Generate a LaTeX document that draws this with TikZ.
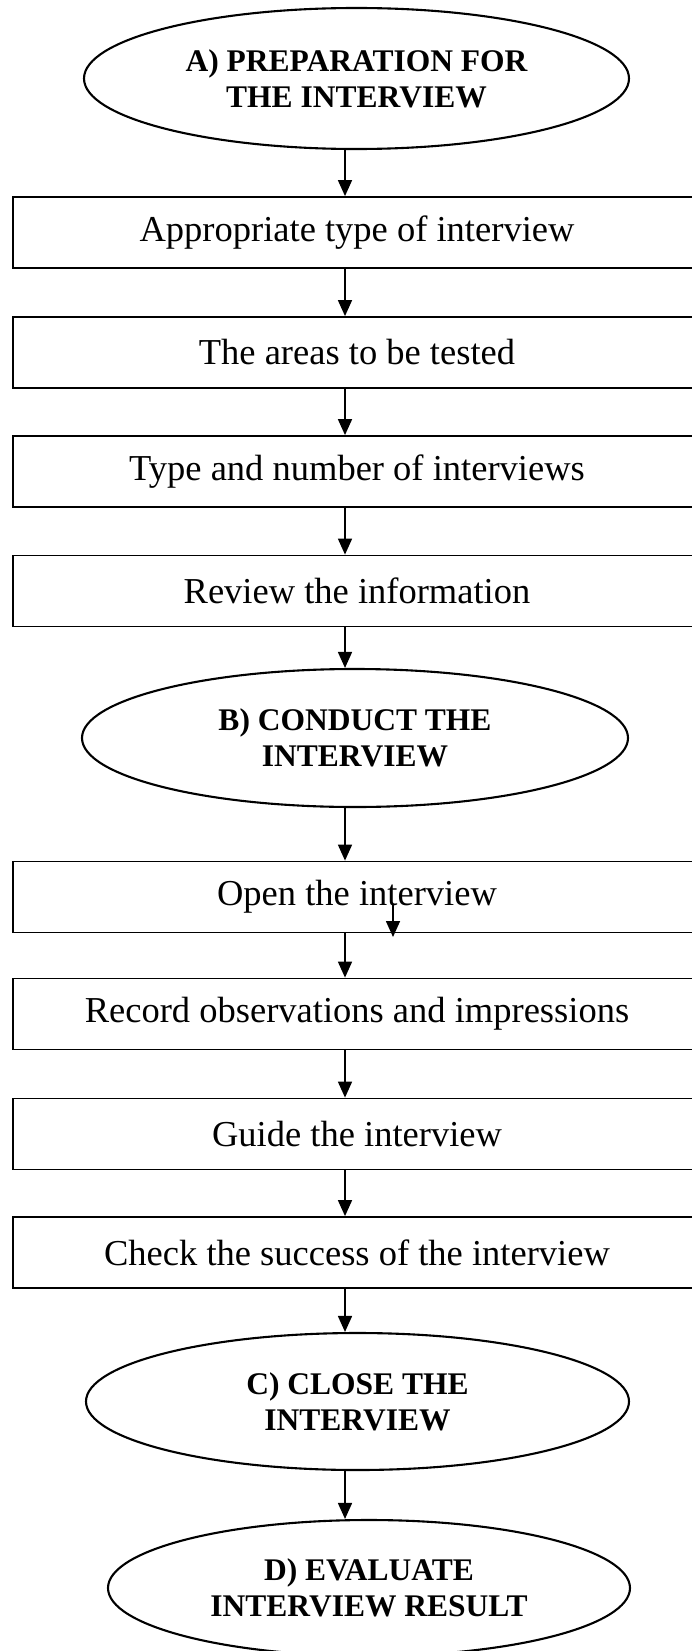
\documentclass[tikz,border=0pt]{standalone}
\usepackage{fontspec}
\setmainfont{Liberation Serif}
\usetikzlibrary{arrows.meta, shapes.geometric}

\tikzset{
  stage/.style={draw, ellipse, line width=2.1pt, inner sep=0pt, align=center,
    font=\fontsize{31.5}{36}\selectfont\bfseries},
  task/.style={draw, rectangle, line width=1.8pt, minimum width=688pt,
    minimum height=71pt, inner sep=0pt, font=\fontsize{36.5}{40}\selectfont},
  arr/.style={line width=1.6pt, -{Triangle[length=16pt, width=14pt]}}
}

\begin{document}
\begin{tikzpicture}[x=1pt, y=-1pt]
  \useasboundingbox (0,0) rectangle (692,1651);
  \fill[white] (0,0) rectangle (692,1651);
  \coordinate (ax) at (345,0);

  % A) preparation
  \node[stage, minimum width=545pt, minimum height=141pt] (prep) at (356.5,78.5) {A) PREPARATION FOR\\THE INTERVIEW};
  \node[task] (kind) at (357,232.5) {Appropriate type of interview};
  \node[task] (areas) at (357,352.5) {The areas to be tested};
  \node[task] (count) at (357,471.5) {Type and number of interviews};
  \node[task] (review) at (357,591) {Review the information};

  % B) conduct
  \node[stage, minimum width=546pt, minimum height=138pt] (conduct) at (355,738) {B) CONDUCT THE\\INTERVIEW};
  \node[task] (open) at (357,897) {Open the interview};
  \node[task] (record) at (357,1014) {Record observations and impressions};
  \node[task] (guide) at (357,1134) {Guide the interview};
  \node[task] (check) at (357,1252.5) {Check the success of the interview};

  % C) and D)
  \node[stage, minimum width=543pt, minimum height=137pt] (close) at (357.5,1401.5) {C) CLOSE THE\\INTERVIEW};
  \node[stage, minimum width=522pt, minimum height=136pt] (evaluate) at (369,1588) {D) EVALUATE\\INTERVIEW RESULT};

  % arrows
  \draw[arr] (prep.south -| ax) -- (kind.north -| ax);
  \draw[arr] (kind.south -| ax) -- (areas.north -| ax);
  \draw[arr] (areas.south -| ax) -- (count.north -| ax);
  \draw[arr] (count.south -| ax) -- (review.north -| ax);
  \draw[arr] (review.south -| ax) -- (conduct.north -| ax);
  \draw[arr] (conduct.south -| ax) -- (open.north -| ax);
  \draw[arr] (open.south -| ax) -- (record.north -| ax);
  \draw[arr] (record.south -| ax) -- (guide.north -| ax);
  \draw[arr] (guide.south -| ax) -- (check.north -| ax);
  \draw[arr] (check.south -| ax) -- (close.north -| ax);
  \draw[arr] (close.south -| ax) -- (evaluate.north -| ax);

  % stray arrow inside the "open" box
  \coordinate (slip) at (393,905);
  \coordinate (slipEnd) at (393,937);
  \draw[arr] (slip) -- (slipEnd);
\end{tikzpicture}
\end{document}
